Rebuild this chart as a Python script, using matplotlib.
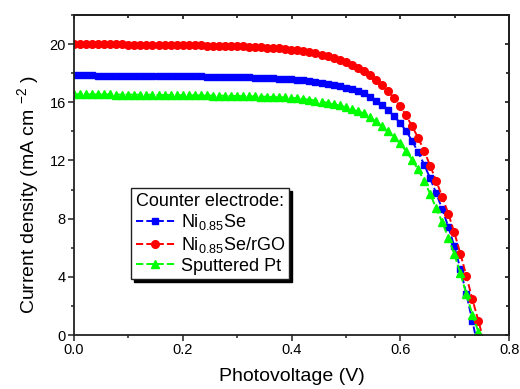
import matplotlib
matplotlib.use('Agg')
import matplotlib.pyplot as plt
from matplotlib.ticker import MultipleLocator

plt.rcParams['font.family'] = ['Liberation Sans', 'DejaVu Sans']
plt.rcParams['mathtext.default'] = 'regular'

# J-V sweep, shared voltage grid (V)
voltage = [0.0000, 0.0111, 0.0222, 0.0333, 0.0444, 0.0555, 0.0666, 0.0777, 0.0888, 0.0999,
           0.1110, 0.1221, 0.1332, 0.1443, 0.1554, 0.1665, 0.1776, 0.1887, 0.1998, 0.2109,
           0.2220, 0.2331, 0.2442, 0.2553, 0.2664, 0.2775, 0.2886, 0.2997, 0.3108, 0.3219,
           0.3330, 0.3441, 0.3552, 0.3663, 0.3774, 0.3885, 0.3996, 0.4107, 0.4218, 0.4329,
           0.4440, 0.4551, 0.4662, 0.4773, 0.4884, 0.4995, 0.5106, 0.5217, 0.5328, 0.5439,
           0.5550, 0.5661, 0.5772, 0.5883, 0.5994, 0.6105, 0.6216, 0.6327, 0.6438, 0.6549,
           0.6660, 0.6771, 0.6882, 0.6993, 0.7104, 0.7215, 0.7326, 0.7437, 0.7548]

# current density (mA cm-2)
j_nise = [17.85, 17.85, 17.85, 17.85, 17.84, 17.84, 17.84, 17.84, 17.83, 17.83,
          17.83, 17.82, 17.82, 17.82, 17.81, 17.81, 17.80, 17.80, 17.79, 17.79,
          17.78, 17.78, 17.77, 17.76, 17.76, 17.75, 17.74, 17.73, 17.72, 17.71,
          17.70, 17.68, 17.67, 17.65, 17.63, 17.61, 17.58, 17.55, 17.52, 17.47,
          17.41, 17.35, 17.28, 17.20, 17.10, 17.00, 16.88, 16.75, 16.61, 16.38,
          16.10, 15.83, 15.46, 15.05, 14.59, 14.04, 13.35, 12.58, 11.72, 10.77,
          9.74, 8.65, 7.45, 6.10, 4.55, 2.80, 0.95, -1.00, -3.00]

j_nise_rgo = [20.00, 20.00, 20.00, 19.99, 19.99, 19.99, 19.98, 19.98, 19.98, 19.97,
              19.97, 19.97, 19.96, 19.96, 19.95, 19.95, 19.94, 19.94, 19.93, 19.93,
              19.92, 19.91, 19.90, 19.90, 19.89, 19.88, 19.87, 19.85, 19.84, 19.82,
              19.80, 19.78, 19.76, 19.73, 19.70, 19.66, 19.62, 19.57, 19.51, 19.44,
              19.36, 19.27, 19.16, 19.04, 18.90, 18.75, 18.58, 18.38, 18.14, 17.87,
              17.55, 17.20, 16.77, 16.29, 15.74, 15.10, 14.36, 13.56, 12.67, 11.64,
              10.60, 9.50, 8.35, 7.05, 5.60, 4.05, 2.45, 0.95, -0.60]

j_pt = [16.55, 16.55, 16.55, 16.54, 16.54, 16.54, 16.54, 16.53, 16.53, 16.53,
        16.52, 16.52, 16.52, 16.51, 16.51, 16.50, 16.50, 16.49, 16.49, 16.48,
        16.48, 16.47, 16.47, 16.46, 16.46, 16.45, 16.44, 16.43, 16.42, 16.41,
        16.40, 16.39, 16.38, 16.36, 16.35, 16.33, 16.30, 16.27, 16.23, 16.18,
        16.12, 16.05, 15.96, 15.86, 15.78, 15.66, 15.53, 15.39, 15.24, 14.96,
        14.69, 14.36, 14.02, 13.63, 13.17, 12.65, 12.03, 11.40, 10.60, 9.70,
        8.70, 7.75, 6.70, 5.55, 4.25, 2.80, 1.40, 0.20, -1.30]

labels = ['Ni$_{0.85}$Se', 'Ni$_{0.85}$Se/rGO', 'Sputtered Pt']

fig = plt.figure(figsize=(5.2, 3.89), dpi=100)
ax = fig.add_axes([0.1423, 0.1388, 0.8367, 0.8226])

ax.plot(voltage, j_nise, '--', color='#0000ff', lw=1.4, marker='s', ms=5,
        label=labels[0])
ax.plot(voltage, j_nise_rgo, '--', color='#ff0000', lw=1.4, marker='o', ms=5.5,
        label=labels[1])
ax.plot(voltage, j_pt, '--', color='#00ff00', lw=1.4, marker='^', ms=6,
        label=labels[2])

ax.set_xlim(0, 0.8)
ax.set_ylim(0, 22)
ax.xaxis.set_major_locator(MultipleLocator(0.2))
ax.xaxis.set_minor_locator(MultipleLocator(0.1))
ax.yaxis.set_major_locator(MultipleLocator(4))
ax.yaxis.set_minor_locator(MultipleLocator(2))
ax.set_xticks([0.0, 0.2, 0.4, 0.6, 0.8])
ax.set_xticklabels(['0.0', '0.2', '0.4', '0.6', '0.8'])

ax.tick_params(which='both', direction='out', top=False, right=False,
               labelsize=10.5, width=1.1, color='#222222')
ax.tick_params(which='major', length=4, pad=2)
ax.tick_params(which='minor', length=2.5)

# inward ticks on top and right, no labels
ax_top = ax.secondary_xaxis('top')
ax_top.xaxis.set_major_locator(MultipleLocator(0.2))
ax_top.xaxis.set_minor_locator(MultipleLocator(0.1))
ax_top.tick_params(which='both', direction='in', labeltop=False, width=1.1)
ax_top.tick_params(which='major', length=3)
ax_top.tick_params(which='minor', length=2)
ax_right = ax.secondary_yaxis('right')
ax_right.yaxis.set_major_locator(MultipleLocator(4))
ax_right.yaxis.set_minor_locator(MultipleLocator(2))
ax_right.tick_params(which='both', direction='in', labelright=False, width=1.1)
ax_right.tick_params(which='major', length=3)
ax_right.tick_params(which='minor', length=2)

for s in ax.spines.values():
    s.set_linewidth(1.3)
    s.set_color('#222222')
ax_top.spines['top'].set_linewidth(1.3)
ax_right.spines['right'].set_linewidth(1.3)

ax.set_xlabel('Photovoltage (V)', fontsize=14, labelpad=8)
ax.set_ylabel('Current density (mA cm $^{-2}$ )', fontsize=14)
ax.yaxis.set_label_coords(-0.076, 0.44)

leg = ax.legend(loc='upper left', bbox_to_anchor=(0.131, 0.459), borderaxespad=0,
                title='Counter electrode:', alignment='left', fontsize=13,
                title_fontsize=13, numpoints=1, handlelength=2.2, handletextpad=0.3,
                labelspacing=0.15, borderpad=0.25, fancybox=False,
                edgecolor='#222222', framealpha=1,
                shadow={'color': 'black', 'alpha': 1})
leg.get_frame().set_linewidth(1.0)

fig.savefig('out.png', dpi=100)
